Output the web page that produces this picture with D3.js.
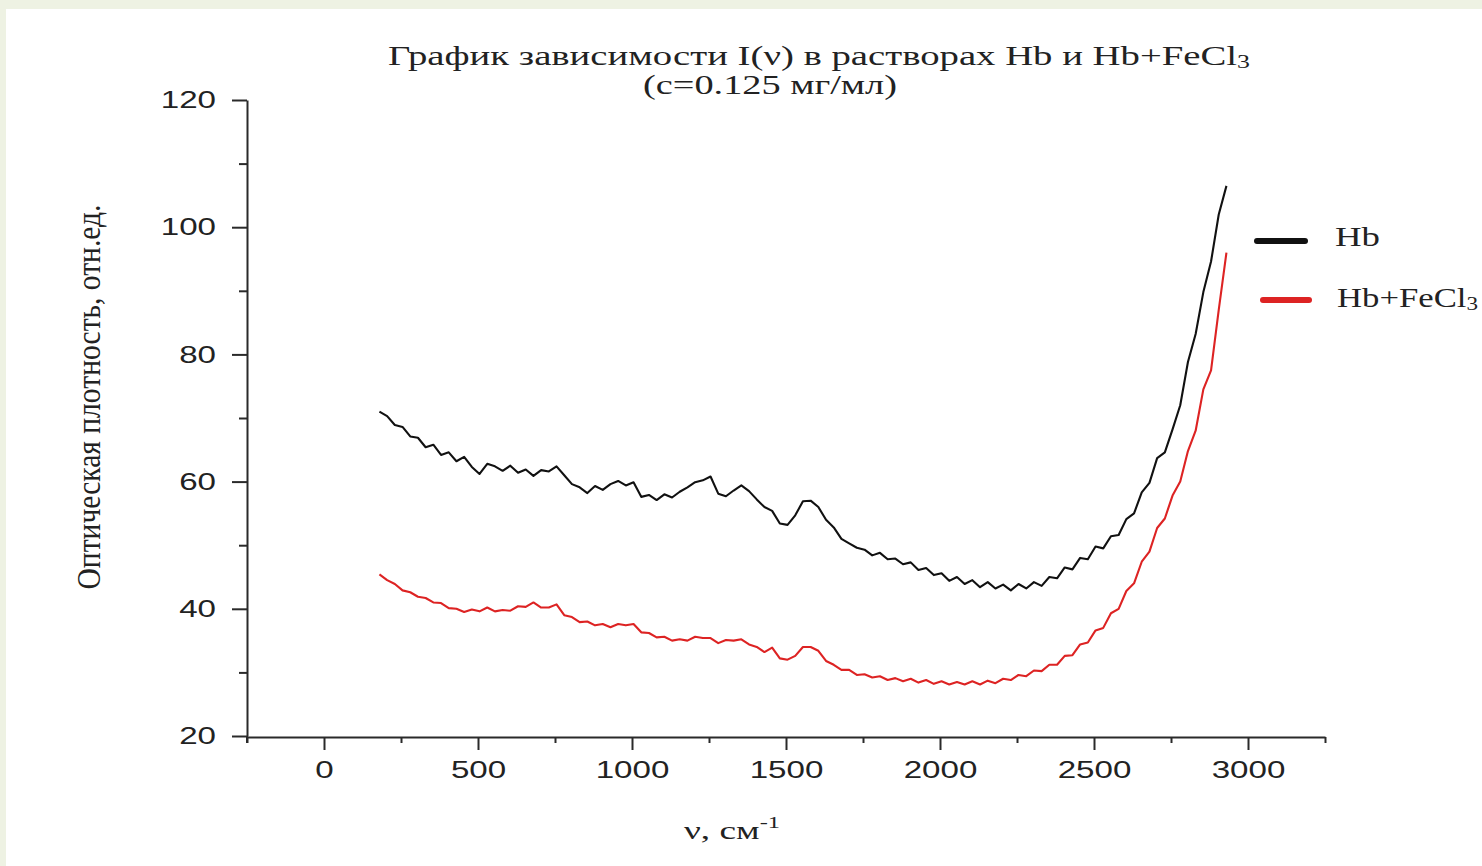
<!DOCTYPE html>
<html><head><meta charset="utf-8">
<script src="https://cdn.jsdelivr.net/npm/d3@7"></script>
<style>html,body{margin:0;padding:0;background:#eef2e3;overflow:hidden}</style>
</head><body>
<svg id="chart" width="1482" height="866"></svg>
<script>
// ---- data ----
const wavenumbers = [180,205,230,255,280,305,330,355,380,405,430,455,480,505,530,555,580,605,630,655,680,705,730,755,780,805,830,855,880,905,930,955,980,1005,1030,1055,1080,1105,1130,1155,1180,1205,1230,1255,1280,1305,1330,1355,1380,1405,1430,1455,1480,1505,1530,1555,1580,1605,1630,1655,1680,1705,1730,1755,1780,1805,1830,1855,1880,1905,1930,1955,1980,2005,2030,2055,2080,2105,2130,2155,2180,2205,2230,2255,2280,2305,2330,2355,2380,2405,2430,2455,2480,2505,2530,2555,2580,2605,2630,2655,2680,2705,2730,2755,2780,2805,2830,2855,2880,2905,2930];
const hbValues = [71.0,70.3,68.9,68.6,67.1,66.9,65.4,65.8,64.2,64.6,63.2,63.9,62.3,61.2,62.8,62.4,61.7,62.5,61.4,61.9,60.9,61.8,61.6,62.4,61.0,59.6,59.1,58.2,59.3,58.7,59.6,60.1,59.4,59.9,57.6,57.9,57.1,58.0,57.5,58.4,59.1,59.9,60.2,60.8,58.1,57.7,58.6,59.4,58.5,57.2,56.0,55.4,53.4,53.2,54.7,56.9,57.0,56.0,54.0,52.8,51.0,50.3,49.6,49.3,48.4,48.8,47.8,47.9,47.0,47.3,46.1,46.4,45.3,45.6,44.4,45.0,43.9,44.5,43.4,44.2,43.2,43.8,42.9,43.9,43.2,44.2,43.6,45.0,44.8,46.5,46.2,48.0,47.8,49.8,49.5,51.4,51.6,54.1,55.0,58.3,59.8,63.7,64.6,68.2,72.0,78.8,83.2,89.8,94.6,102.0,106.5];
const hbFeValues = [45.4,44.5,43.9,42.9,42.6,41.9,41.7,41.0,40.9,40.1,40.0,39.5,39.9,39.6,40.2,39.6,39.8,39.7,40.4,40.3,41.0,40.2,40.2,40.7,39.0,38.7,37.9,38.0,37.4,37.6,37.1,37.6,37.4,37.6,36.3,36.2,35.5,35.6,35.0,35.2,35.0,35.6,35.4,35.4,34.6,35.1,35.0,35.2,34.4,34.0,33.2,33.9,32.2,32.0,32.6,34.0,34.0,33.4,31.8,31.2,30.4,30.4,29.6,29.7,29.2,29.4,28.8,29.1,28.6,29.0,28.4,28.8,28.2,28.6,28.1,28.5,28.1,28.6,28.1,28.7,28.3,29.0,28.8,29.6,29.4,30.3,30.2,31.2,31.2,32.6,32.7,34.4,34.7,36.6,37.0,39.3,40.0,42.8,44.0,47.4,49.0,52.7,54.2,57.8,60.0,64.8,68.0,74.5,77.5,87.0,96.0];
const xMajorTicks = [0,500,1000,1500,2000,2500,3000];
const xMinorTicks = [-250,250,750,1250,1750,2250,2750,3250];
const yMajorTicks = [20,40,60,80,100,120];
const yMinorTicks = [30,50,70,90,110];
const seriesNames = ["Hb","Hb+FeCl"];
const seriesColors = ["#111111","#dd2323"];
const titleLine1 = "График зависимости I(ν) в растворах Hb и Hb+FeCl";
const titleLine2 = "(c=0.125 мг/мл)";
const xLabel = "ν, см";
const yLabel = "Оптическая плотность, отн.ед.";

// ---- drawing ----
const svg = d3.select("#chart");
const SX = 1.38;
svg.append("rect").attr("x",0).attr("y",0).attr("width",1482).attr("height",866).attr("fill","#eef2e3");
svg.append("rect").attr("x",6).attr("y",9).attr("width",1476).attr("height",857).attr("fill","#ffffff");

const x = d3.scaleLinear().domain([-250,3250]).range([247,1325]);
const y = d3.scaleLinear().domain([20,120]).range([736,100]);
const axisColor = "#2a2a2a";

// x axis
const gx = svg.append("g").attr("transform","translate(0,737)");
gx.call(d3.axisBottom(x).tickValues(xMajorTicks).tickSize(13).tickSizeOuter(0).tickPadding(11).tickFormat(d3.format("d")));
const gxm = svg.append("g").attr("transform","translate(0,737)");
gxm.call(d3.axisBottom(x).tickValues(xMinorTicks).tickSize(6).tickSizeOuter(0).tickFormat(""));
gxm.select(".domain").remove();

// y axis
const gy = svg.append("g").attr("transform","translate(247,0)");
gy.call(d3.axisLeft(y).tickValues(yMajorTicks).tickSize(15).tickSizeOuter(0).tickPadding(16).tickFormat(d3.format("d")));
const gym = svg.append("g").attr("transform","translate(247,0)");
gym.call(d3.axisLeft(y).tickValues(yMinorTicks).tickSize(8).tickSizeOuter(0).tickFormat(""));
gym.select(".domain").remove();

[gx,gxm,gy,gym].forEach(g=>{
  g.selectAll("path,line").attr("stroke",axisColor).attr("stroke-width",2);
  g.selectAll("text").attr("font-family","'Liberation Sans',Arial,sans-serif").attr("font-size",24).attr("fill","#222");
});
gx.selectAll(".tick text").attr("transform",`scale(${SX},1)`);
gy.selectAll(".tick text").each(function(){
  const t = d3.select(this); const tx = +t.attr("x");
  t.attr("x",0).attr("transform",`translate(${tx},0) scale(${SX},1)`);
});
svg.append("line").attr("x1",247).attr("x2",247).attr("y1",736).attr("y2",743).attr("stroke",axisColor).attr("stroke-width",2);

// series
const line = d3.line().x(d=>x(d[0])).y(d=>y(d[1])).curve(d3.curveLinear);
const series = [hbFeValues, hbValues];
const cols = [seriesColors[1], seriesColors[0]];
series.forEach((vals,i)=>{
  svg.append("path")
    .datum(wavenumbers.map((w,k)=>[w, vals[k]]))
    .attr("d",line).attr("fill","none")
    .attr("stroke",cols[i]).attr("stroke-width",2.1).attr("stroke-linejoin","round");
});

// title
const serif = "'Liberation Serif','Times New Roman',serif";
const t1 = svg.append("text").attr("x",819).attr("y",65).attr("text-anchor","middle")
  .attr("font-family",serif).attr("font-size",27).attr("fill","#222")
  .attr("textLength",862).attr("lengthAdjust","spacingAndGlyphs");
t1.append("tspan").text(titleLine1);
t1.append("tspan").attr("font-size",18).attr("dy",3).text("3");
svg.append("text").attr("x",770).attr("y",94).attr("text-anchor","middle")
  .attr("font-family",serif).attr("font-size",27).attr("fill","#222")
  .attr("textLength",254).attr("lengthAdjust","spacingAndGlyphs").text(titleLine2);

// x label
const xl = svg.append("text").attr("x",684).attr("y",839)
  .attr("font-family",serif).attr("font-size",26).attr("fill","#222")
  .attr("textLength",96).attr("lengthAdjust","spacingAndGlyphs");
xl.append("tspan").text(xLabel);
xl.append("tspan").attr("font-size",17).attr("dy",-11).text("-1");

// y label
svg.append("text").attr("transform",`translate(100,397) rotate(-90) scale(1,${SX})`)
  .attr("text-anchor","middle").attr("font-family",serif).attr("font-size",25).attr("fill","#222")
  .attr("textLength",385).attr("lengthAdjust","spacingAndGlyphs").text(yLabel);

// legend
const legendLines = [[1257,1305,241],[1263,1309,300]];
const legendText = [[1335,246,45],[1337,307,141]];
seriesNames.forEach((n,i)=>{
  svg.append("line").attr("x1",legendLines[i][0]).attr("x2",legendLines[i][1])
    .attr("y1",legendLines[i][2]).attr("y2",legendLines[i][2])
    .attr("stroke",seriesColors[i]).attr("stroke-width",6).attr("stroke-linecap","round");
  const lt = svg.append("text").attr("x",legendText[i][0]).attr("y",legendText[i][1])
    .attr("font-family",serif).attr("font-size",27).attr("fill","#222")
    .attr("textLength",legendText[i][2]).attr("lengthAdjust","spacingAndGlyphs");
  lt.append("tspan").text(n);
  if(i===1) lt.append("tspan").attr("font-size",18).attr("dy",3).text("3");
});
</script>
</body></html>
